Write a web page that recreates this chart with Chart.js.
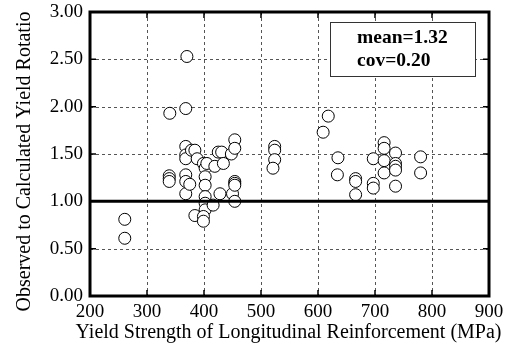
<!DOCTYPE html>
<html>
<head>
<meta charset="utf-8">
<script src="https://cdn.jsdelivr.net/npm/chart.js@4.4.1/dist/chart.umd.min.js"></script>
<style>
  html, body { margin: 0; padding: 0; background: #fff; }
  #wrap { width: 505px; height: 347px; }
</style>
</head>
<body>
<div id="wrap"><canvas id="chart" width="505" height="347"></canvas></div>
<script>
// Yield strength (MPa) and observed / calculated yield rotation ratio
const yieldStrength = [
    261, 261,
    340, 339, 339, 339,
    368, 370, 368, 368, 368, 368, 368, 368, 375, 378, 384, 388, 384,
    399, 402, 402, 402, 402, 402, 402, 399, 399, 405, 416, 419,
    425, 431, 428, 434, 448, 450,
    454, 454, 454, 454, 454, 454,
    524, 524, 524, 521,
    609, 618, 635, 634,
    666, 666, 666,
    697, 697, 697,
    716, 716, 716, 716,
    736, 736, 736, 736, 736,
    780, 780
];
const rotationRatio = [
    0.81, 0.61,
    1.93, 1.27, 1.24, 1.21,
    1.98, 2.53, 1.58, 1.49, 1.45, 1.28, 1.21, 1.08, 1.18, 1.54, 1.54, 1.45, 0.85,
    1.40, 1.35, 1.26, 1.17, 1.05, 0.98, 0.91, 0.84, 0.79, 1.40, 0.96, 1.37,
    1.52, 1.52, 1.08, 1.40, 1.50, 1.08,
    1.65, 1.56, 1.21, 1.19, 1.17, 1.00,
    1.58, 1.54, 1.44, 1.35,
    1.73, 1.90, 1.46, 1.28,
    1.24, 1.21, 1.07,
    1.45, 1.19, 1.14,
    1.62, 1.56, 1.43, 1.30,
    1.51, 1.40, 1.37, 1.33, 1.16,
    1.47, 1.30
];
const refLineX = [200, 900];
const refLineY = [1.0, 1.0];
const statsText = ["mean=1.32", "cov=0.20"];
const xTitle = "Yield Strength of Longitudinal Reinforcement (MPa)";
const yTitle = "Observed to Calculated Yield Rotatio";

const serif = "'Liberation Serif', 'Times New Roman', serif";

const points = yieldStrength.map((x, i) => ({ x: x, y: rotationRatio[i] }));
const refPoints = refLineX.map((x, i) => ({ x: x, y: refLineY[i] }));

// dashed grid under the data
const gridPlugin = {
    id: 'dashGrid',
    beforeDatasetsDraw(chart) {
        const { ctx, chartArea: a, scales } = chart;
        ctx.save();
        ctx.strokeStyle = '#555';
        ctx.lineWidth = 1;
        ctx.setLineDash([3, 3]);
        scales.y.ticks.forEach(t => {
            const py = Math.round(scales.y.getPixelForValue(t.value)) + 0.5;
            ctx.beginPath();
            ctx.moveTo(a.left, py); ctx.lineTo(a.right, py);
            ctx.stroke();
        });
        scales.x.ticks.forEach(t => {
            const px = Math.round(scales.x.getPixelForValue(t.value)) + 0.5;
            ctx.beginPath();
            ctx.moveTo(px, a.top); ctx.lineTo(px, a.bottom);
            ctx.stroke();
        });
        ctx.restore();
    }
};

// frame, inward ticks, axis titles and the stats box
const framePlugin = {
    id: 'frame',
    afterDatasetsDraw(chart) {
        const { ctx, chartArea: a, scales } = chart;
        ctx.save();
        ctx.strokeStyle = '#000';
        ctx.lineWidth = 1.5;
        scales.y.ticks.forEach(t => {
            const py = scales.y.getPixelForValue(t.value);
            ctx.beginPath();
            ctx.moveTo(a.left, py); ctx.lineTo(a.left + 6, py);
            ctx.moveTo(a.right, py); ctx.lineTo(a.right - 6, py);
            ctx.stroke();
        });
        scales.x.ticks.forEach(t => {
            const px = scales.x.getPixelForValue(t.value);
            ctx.beginPath();
            ctx.moveTo(px, a.bottom); ctx.lineTo(px, a.bottom - 6);
            ctx.moveTo(px, a.top); ctx.lineTo(px, a.top + 6);
            ctx.stroke();
        });
        ctx.lineWidth = 3;
        ctx.strokeRect(a.left, a.top, a.right - a.left, a.bottom - a.top);

        // titles are wider than the plot, so drawn here
        ctx.fillStyle = '#000';
        ctx.font = "20px " + serif;
        ctx.textAlign = 'center';
        ctx.textBaseline = 'alphabetic';
        ctx.fillText(xTitle, 288.5, 338);
        ctx.save();
        ctx.translate(30, 161.5);
        ctx.rotate(-Math.PI / 2);
        ctx.fillText(yTitle, 0, 0);
        ctx.restore();

        // stats box
        ctx.fillStyle = '#fff';
        ctx.fillRect(330, 22, 145, 54);
        ctx.lineWidth = 1;
        ctx.strokeStyle = '#333';
        ctx.strokeRect(330.5, 22.5, 145, 54);
        ctx.fillStyle = '#000';
        ctx.font = "bold 19.5px " + serif;
        ctx.textAlign = 'left';
        ctx.textBaseline = 'middle';
        ctx.fillText(statsText[0], 357, 38);
        ctx.fillText(statsText[1], 357, 61);
        ctx.restore();
    }
};

const ctx = document.getElementById('chart').getContext('2d');
new Chart(ctx, {
    type: 'scatter',
    data: {
        datasets: [
            {
                type: 'line',
                data: refPoints,
                borderColor: '#000',
                borderWidth: 3,
                pointRadius: 0,
                fill: false,
                order: 0
            },
            {
                data: points,
                backgroundColor: '#fff',
                borderColor: '#000',
                borderWidth: 1,
                pointRadius: 6,
                order: 1
            }
        ]
    },
    options: {
        responsive: false,
        animation: false,
        layout: { padding: { left: 14, right: 16, top: 12, bottom: 0 } },
        plugins: { legend: { display: false }, tooltip: { enabled: false } },
        scales: {
            x: {
                min: 200, max: 900,
                ticks: { stepSize: 100, color: '#000', padding: 5, maxRotation: 0, font: { family: serif, size: 19 } },
                grid: { display: false, drawTicks: false },
                border: { display: false },
                title: { display: false },
                afterFit(s) { s.height = 51; s.paddingLeft = 0; s.paddingRight = 0; }
            },
            y: {
                min: 0, max: 3,
                ticks: { stepSize: 0.5, color: '#000', padding: 7, font: { family: serif, size: 19 },
                         callback: v => v.toFixed(2) },
                grid: { display: false, drawTicks: false },
                border: { display: false },
                title: { display: false },
                afterFit(s) { s.width = 76; s.paddingTop = 0; s.paddingBottom = 0; }
            }
        }
    },
    plugins: [gridPlugin, framePlugin]
});
</script>
</body>
</html>
